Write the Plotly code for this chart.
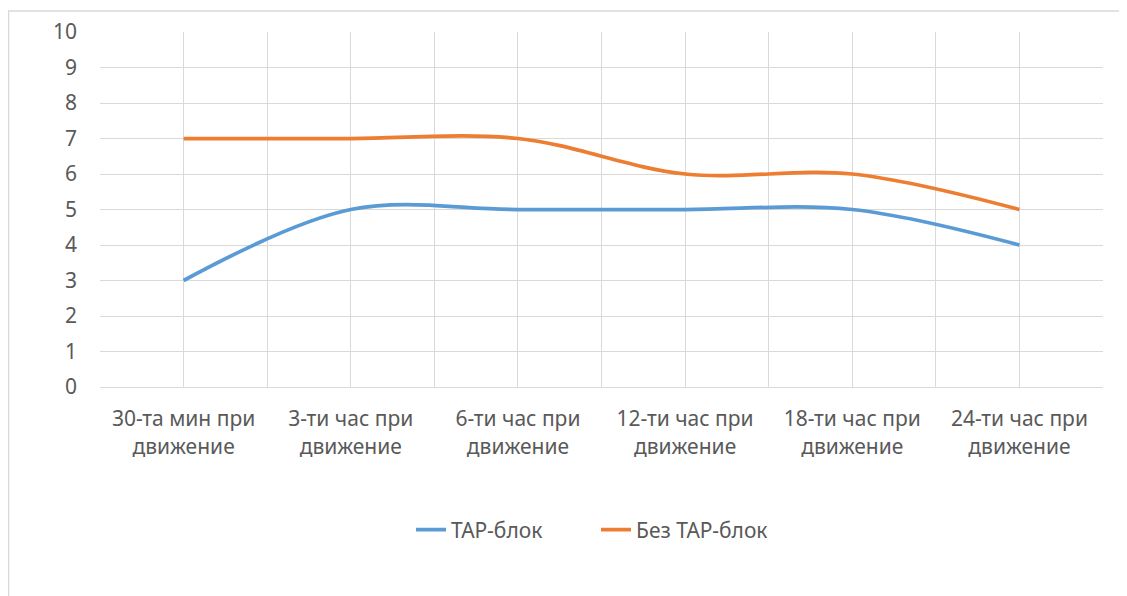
import plotly.graph_objects as go

categories = ["30-та мин при<br>движение", "3-ти час при<br>движение", "6-ти час при<br>движение",
              "12-ти час при<br>движение", "18-ти час при<br>движение", "24-ти час при<br>движение"]
tap_block = [3, 5, 5, 5, 5, 4]
bez_tap_block = [7, 7, 7, 6, 6, 5]
series_names = ["ТАР-блок", "Без ТАР-блок"]
y_ticks = list(range(0, 11))

xs = list(range(len(categories)))
font_family = "Noto Sans, Open Sans, sans-serif"
grid = "#D9D9D9"

W, H = 1119, 588
L, T, PW, PH = 92, 24, 1003, 355
R = W - L - PW
B = H - T - PH

fig = go.Figure()
fig.add_trace(go.Scatter(x=xs, y=tap_block, name=series_names[0], mode="lines",
                         line=dict(color="#5B9BD5", width=3.75, shape="spline", smoothing=1)))
fig.add_trace(go.Scatter(x=xs, y=bez_tap_block, name=series_names[1], mode="lines",
                         line=dict(color="#ED7D31", width=3.75, shape="spline", smoothing=1)))

tickvals = []
ticktext = []
for i, c in enumerate(categories):
    tickvals.append(i - 0.5); ticktext.append("")
    tickvals.append(i); ticktext.append(c)
tickvals.append(len(categories) - 0.5); ticktext.append("")

fig.update_layout(
    width=W, height=H,
    margin=dict(l=L, r=R, t=T, b=B, autoexpand=False),
    paper_bgcolor="white", plot_bgcolor="white",
    font=dict(family=font_family, size=21, color="#595959"),
    showlegend=True,
    legend=dict(orientation="h", x=(403 - L) / PW, xanchor="left", y=(T + PH - 522) / PH,
                yanchor="middle", entrywidth=140, entrywidthmode="pixels",
                font=dict(size=21, color="#595959")),
    xaxis=dict(range=[-0.5, len(categories) - 0.5], tickvals=tickvals, ticktext=ticktext,
               showgrid=True, gridcolor=grid, gridwidth=1, zeroline=False,
               showline=True, linecolor=grid, linewidth=1, ticks="", ticklabelstandoff=13,
               tickfont=dict(size=21), fixedrange=True),
    yaxis=dict(range=[0, 10], tickvals=y_ticks, showgrid=True, gridcolor=grid, gridwidth=1,
               zeroline=False, showline=False, ticks="", ticklabelstandoff=22,
               tickfont=dict(size=21), fixedrange=True),
    shapes=[
        dict(type="line", xref="paper", yref="paper", x0=(0.5 - L) / PW, x1=(0.5 - L) / PW,
             y0=1 + (T - 3) / PH, y1=-(B + 20) / PH, line=dict(color="#D9D9D9", width=1.5)),
        dict(type="line", xref="paper", yref="paper", x0=(0 - L) / PW, x1=(W + 20 - L) / PW,
             y0=1 + (T - 3) / PH, y1=1 + (T - 3) / PH, line=dict(color="#D9D9D9", width=1.5)),
    ],
)

fig.write_html("out.html")
